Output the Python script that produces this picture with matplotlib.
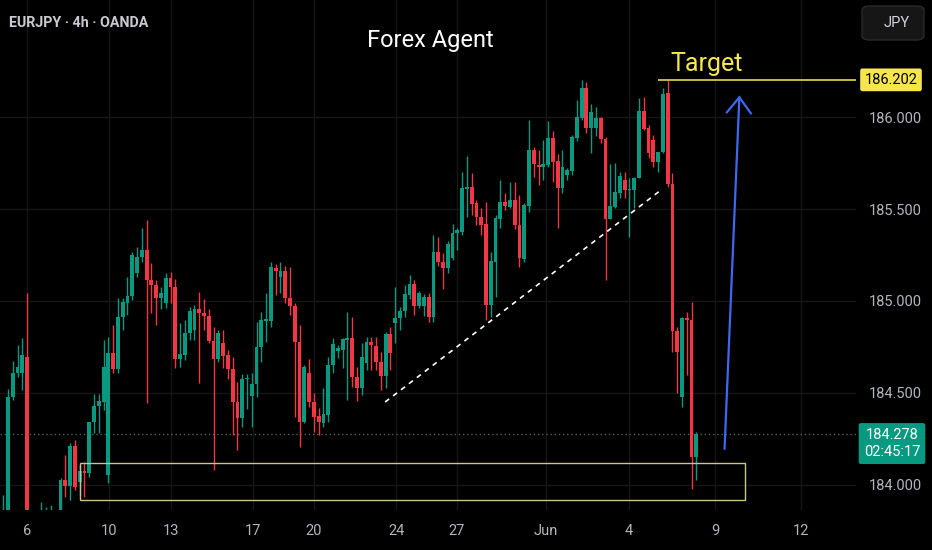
import numpy as np
import matplotlib.pyplot as plt
from matplotlib.patches import Rectangle, FancyBboxPatch
from matplotlib import transforms

plt.rcParams['font.family'] = ['Roboto', 'DejaVu Sans']

# EURJPY 4h candles
opens = [
    183.783, 183.837, 184.478, 184.609, 184.609, 184.696, 183.756, 183.674, 183.701, 183.783,
    183.821, 183.756, 183.837, 184.027, 183.994, 184.212, 184.016, 184.077, 184.066, 184.342,
    184.429, 184.451, 184.055, 184.718, 184.630, 184.913, 184.989, 185.027, 185.152, 185.239,
    185.277, 185.114, 185.087, 185.017, 184.989, 185.125, 185.076, 184.685, 184.707, 184.826,
    184.842, 184.956, 184.935, 184.918, 184.783, 184.685, 184.772, 184.707, 184.630, 184.451,
    184.365, 184.576, 184.483, 184.549, 184.750, 184.891, 184.891, 185.179, 185.130, 185.163,
    185.017, 184.973, 184.777, 184.342, 184.609, 184.451, 184.375, 184.337, 184.380, 184.652,
    184.728, 184.734, 184.788, 184.799, 184.587, 184.527, 184.663, 184.777, 184.755, 184.668,
    184.592, 184.821, 184.880, 184.907, 184.946, 185.033, 185.092, 184.973, 184.973, 185.022,
    184.913, 185.266, 185.212, 185.179, 185.234, 185.370, 185.375, 185.609, 185.620, 185.533,
    185.457, 185.418, 184.978, 185.212, 185.446, 185.538, 185.511, 185.549, 185.413, 185.228,
    185.516, 185.821, 185.739, 185.728, 185.739, 185.886, 185.761, 185.614, 185.685, 185.707,
    185.886, 185.995, 186.158, 185.940, 185.940, 185.995, 185.880, 185.446, 185.511, 185.587,
    185.658, 185.603, 185.603, 185.668, 186.033, 185.940, 185.875, 185.756, 185.810, 186.130,
    185.636, 184.837, 184.478, 184.907, 184.897, 184.152]
highs = [
    183.946, 184.521, 184.674, 184.761, 184.799, 185.044, 183.810, 183.783, 183.908, 183.881,
    183.892, 183.837, 184.039, 184.163, 184.229, 184.245, 184.109, 184.125, 184.342, 184.494,
    184.494, 184.788, 184.804, 184.870, 185.017, 185.017, 185.130, 185.266, 185.294, 185.397,
    185.440, 185.207, 185.114, 185.076, 185.152, 185.157, 185.119, 184.881, 184.897, 184.967,
    184.978, 185.049, 185.011, 184.956, 184.858, 184.842, 184.842, 184.734, 184.696, 184.560,
    184.603, 184.603, 184.609, 184.886, 184.940, 185.044, 185.212, 185.201, 185.212, 185.190,
    185.185, 184.989, 184.870, 184.652, 184.685, 184.500, 184.418, 184.527, 184.696, 184.799,
    184.761, 184.799, 184.940, 184.913, 184.641, 184.772, 184.804, 184.804, 184.804, 184.723,
    184.832, 184.859, 185.076, 184.967, 185.087, 185.141, 185.114, 185.054, 185.038, 185.044,
    185.359, 185.348, 185.261, 185.326, 185.418, 185.397, 185.701, 185.788, 185.696, 185.549,
    185.506, 185.538, 185.266, 185.467, 185.658, 185.587, 185.647, 185.647, 185.576, 185.533,
    185.984, 185.837, 185.821, 185.875, 185.978, 185.924, 185.799, 185.821, 185.723, 185.902,
    186.092, 186.201, 186.190, 186.071, 186.054, 186.000, 185.891, 185.745, 185.750, 185.701,
    185.701, 185.668, 185.674, 186.103, 186.109, 185.957, 185.902, 185.810, 186.158, 186.201,
    185.696, 184.859, 184.913, 184.940, 184.994, 184.288]
lows = [
    183.756, 183.810, 184.462, 184.587, 184.516, 183.701, 183.592, 183.538, 183.647, 183.701,
    183.728, 183.674, 183.810, 183.935, 183.919, 183.973, 183.946, 183.935, 184.044, 184.283,
    184.283, 184.408, 184.011, 184.609, 184.609, 184.842, 184.924, 185.005, 185.130, 185.212,
    184.446, 184.935, 184.870, 184.956, 184.962, 184.989, 184.636, 184.641, 184.679, 184.788,
    184.788, 184.555, 184.842, 184.772, 184.082, 184.668, 184.636, 184.576, 184.272, 184.190,
    184.315, 184.413, 184.315, 184.478, 184.668, 184.777, 184.859, 185.033, 185.044, 184.989,
    184.924, 184.370, 184.207, 184.337, 184.424, 184.288, 184.272, 184.315, 184.342, 184.609,
    184.690, 184.636, 184.462, 184.533, 184.457, 184.489, 184.625, 184.625, 184.625, 184.516,
    184.527, 184.625, 184.772, 184.842, 184.913, 185.011, 184.924, 184.962, 184.918, 184.886,
    184.886, 185.190, 185.065, 185.152, 185.223, 185.277, 185.359, 185.457, 185.467, 185.413,
    185.359, 184.897, 184.913, 185.022, 185.397, 185.495, 185.506, 185.391, 185.185, 185.212,
    185.484, 185.674, 185.631, 185.658, 185.728, 185.647, 185.397, 185.587, 185.658, 185.685,
    185.870, 185.984, 185.913, 185.804, 185.897, 185.859, 185.114, 185.446, 185.506, 185.560,
    185.560, 185.348, 185.506, 185.668, 185.929, 185.777, 185.728, 185.701, 185.804, 185.620,
    184.723, 184.500, 184.424, 184.598, 183.978, 184.027]
closes = [
    183.853, 184.478, 184.609, 184.641, 184.707, 183.756, 183.674, 183.728, 183.810, 183.821,
    183.837, 183.810, 184.027, 183.994, 184.212, 183.989, 184.077, 184.066, 184.342, 184.429,
    184.457, 184.641, 184.718, 184.630, 184.913, 184.994, 185.027, 185.250, 185.239, 185.277,
    185.114, 185.087, 185.017, 185.044, 185.125, 185.076, 184.685, 184.712, 184.826, 184.946,
    184.956, 184.935, 184.918, 184.783, 184.685, 184.826, 184.701, 184.630, 184.451, 184.365,
    184.576, 184.581, 184.549, 184.750, 184.897, 184.902, 185.185, 185.163, 185.163, 185.017,
    184.973, 184.777, 184.342, 184.641, 184.451, 184.370, 184.342, 184.386, 184.652, 184.766,
    184.745, 184.794, 184.799, 184.587, 184.527, 184.696, 184.777, 184.761, 184.668, 184.592,
    184.821, 184.718, 184.907, 184.946, 185.038, 185.092, 184.973, 185.044, 185.022, 184.913,
    185.266, 185.212, 185.179, 185.310, 185.370, 185.386, 185.614, 185.620, 185.527, 185.457,
    185.413, 184.978, 185.217, 185.451, 185.538, 185.516, 185.549, 185.413, 185.234, 185.522,
    185.821, 185.745, 185.728, 185.745, 185.886, 185.756, 185.614, 185.728, 185.712, 185.891,
    186.000, 186.158, 185.940, 186.027, 185.995, 185.880, 185.446, 185.516, 185.592, 185.679,
    185.603, 185.609, 185.668, 186.033, 185.935, 185.804, 185.756, 185.810, 186.125, 185.636,
    184.837, 184.723, 184.907, 184.897, 184.152, 184.278]

# date labels on the time axis (bar index where each day starts)
tick_pos = [4.9, 22.1, 35.1, 52.3, 65.0, 82.2, 94.9, 113.5, 130.9, 148.9, 166.9]
tick_labels = ['6', '10', '13', '17', '20', '24', '27', 'Jun', '4', '9', '12']
price_ticks = [184.0, 184.5, 185.0, 185.5, 186.0]

# drawings
target = 186.202
target_start = 137
zone_x = [16.1, 155.2]
zone_y = [183.918, 184.120]
trend_x = [79.9, 137.6]
trend_y = [184.451, 185.603]
arrow_x = [150.9, 154.0]
arrow_y = [184.196, 186.107]
head_x = [151.4, 154.0, 156.4]
head_y = [186.026, 186.107, 186.020]

UP = '#089981'
DOWN = '#f23645'
GRID = '#161616'
TXT = '#b2b5be'

o = np.array(opens)
h = np.array(highs)
l = np.array(lows)
c = np.array(closes)
idx = np.arange(len(c))
cols = np.where(c >= o, UP, DOWN)

fig = plt.figure(figsize=(9.32, 5.5), dpi=100, facecolor='black')
ax = fig.add_axes([0, 40 / 550, 856 / 932, 510 / 550], facecolor='black')

ax.set_xlim(-0.67, 178.4)
ax.set_ylim(183.864, 186.636)

for p in price_ticks:
    ax.axhline(p, color=GRID, lw=1, zorder=0)
for t in tick_pos:
    ax.axvline(t, color=GRID, lw=1, zorder=0)

# candles
ax.vlines(idx, l, h, colors=cols, lw=1, zorder=2)
body = np.maximum(np.abs(c - o), 0.004)
ax.bar(idx, body, bottom=np.minimum(o, c), width=0.8, color=cols, zorder=3)

# last price dotted line
ax.axhline(c[-1], color='#3f6b62', lw=1, ls=(0, (1, 2)), zorder=1)

# demand zone
ax.add_patch(Rectangle((zone_x[0], zone_y[0]), zone_x[1] - zone_x[0], zone_y[1] - zone_y[0],
                       fill=False, ec='#c8c594', lw=1, zorder=4))

# trend line
ax.plot(trend_x, trend_y, color='white', lw=1.2, ls=(0, (3, 3)), zorder=4)

# target
ax.hlines(target, target_start, 178.4, color='#e8d84a', lw=1.2, zorder=4)
ax.text(147.2, target + 0.087, 'Target', color='#f7e84e', fontsize=18,
        ha='center', va='center', zorder=5)

# arrow
ax.plot(arrow_x, arrow_y, color='#3d68f0', lw=1.6, zorder=5, solid_capstyle='round')
ax.plot(head_x, head_y, color='#3d68f0', lw=1.6, zorder=5, solid_joinstyle='miter')

# axes styling
for s in ax.spines.values():
    s.set_visible(False)
ax.set_xticks(tick_pos)
ax.set_xticklabels(tick_labels)
ax.set_yticks(price_ticks)
ax.set_yticklabels(['%.3f' % p for p in price_ticks])
ax.yaxis.tick_right()
ax.tick_params(axis='x', colors=TXT, labelsize=10.5, length=0, pad=10)
ax.tick_params(axis='y', colors=TXT, labelsize=10.5, length=0, pad=9)

# price labels on the axis
bt = transforms.blended_transform_factory(fig.transFigure, ax.transData)
ax.text(891 / 932, target, '%.3f' % target, transform=bt, ha='center', va='center',
        fontsize=10.5, color='black', clip_on=False, zorder=6,
        bbox=dict(boxstyle='round,pad=0.3,rounding_size=0.15', fc='#f7e64b', ec='none'))
ax.annotate('%.3f\n02:45:17' % c[-1], xy=(892 / 932, c[-1]), xycoords=bt,
            xytext=(0, -7), textcoords='offset points', ha='center', va='center',
            fontsize=10.5, color='white', annotation_clip=False, zorder=6, linespacing=1.25,
            bbox=dict(boxstyle='round,pad=0.35,rounding_size=0.15', fc='#089981', ec='none'))

# header texts
fig.text(9 / 932, 1 - 23 / 550, 'EURJPY · 4h · OANDA', color='#c8cad0', fontsize=10.3,
         fontweight='bold', ha='left', va='center')
fig.text(430 / 932, 1 - 40 / 550, 'Forex Agent', color='white', fontsize=17,
         ha='center', va='center')

# currency button
fig.add_artist(FancyBboxPatch((862 / 932, 1 - 40 / 550), 62 / 932, 34 / 550,
                              boxstyle='round,pad=0,rounding_size=0.008',
                              transform=fig.transFigure, fc='#161616', ec='#2a2a2a', lw=1))
fig.text(884 / 932, 1 - 23 / 550, 'JPY', color='#d1d4dc', fontsize=10.5,
         ha='left', va='center')

fig.savefig('out.png', dpi=100, facecolor='black')
